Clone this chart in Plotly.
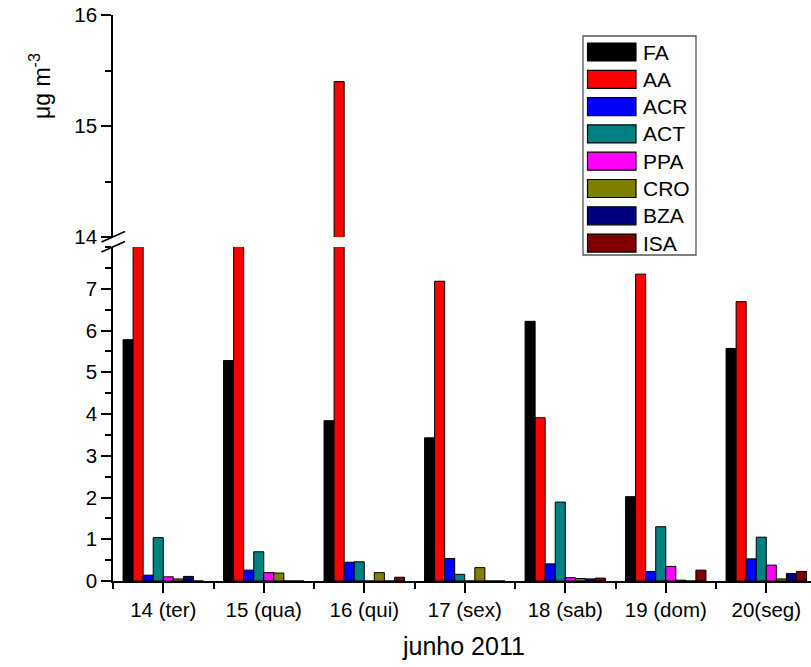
import plotly.graph_objects as go

days = ["14 (ter)", "15 (qua)", "16 (qui)", "17 (sex)", "18 (sab)", "19 (dom)", "20(seg)"]
series_names = ["FA", "AA", "ACR", "ACT", "PPA", "CRO", "BZA", "ISA"]
colors = ["#000000", "#FF0000", "#0000FF", "#008080", "#FF00FF", "#808000", "#000080", "#800000"]

FA = [5.78, 5.28, 3.84, 3.43, 6.22, 2.02, 5.57]
AA = [10.5, 10.5, 15.40, 7.18, 3.91, 7.35, 6.69]
ACR = [0.14, 0.26, 0.45, 0.54, 0.41, 0.23, 0.53]
ACT = [1.04, 0.70, 0.46, 0.16, 1.89, 1.30, 1.05]
PPA = [0.10, 0.20, 0.0, 0.0, 0.08, 0.35, 0.38]
CRO = [0.05, 0.19, 0.20, 0.32, 0.06, 0.02, 0.05]
BZA = [0.11, 0.0, 0.0, 0.0, 0.05, 0.0, 0.18]
ISA = [0.0, 0.0, 0.09, 0.0, 0.07, 0.26, 0.23]
values = [FA, AA, ACR, ACT, PPA, CRO, BZA, ISA]

W, H = 811, 667
ML, MR, MT, MB = 113, 0, 15, 86
PW, PH = W - ML - MR, H - MT - MB

def px(x):
    return (x - ML) / PW

def py(y):
    return (H - MB - y) / PH

FONT = "Arial, Liberation Sans, sans-serif"
xpos = list(range(len(days)))

fig = go.Figure()
for name, col, vals in zip(series_names, colors, values):
    for xa, ya in (("x", "y"), ("x2", "y2")):
        fig.add_trace(go.Bar(
            x=xpos, y=vals, name=name, xaxis=xa, yaxis=ya,
            marker=dict(color=col, line=dict(color="black", width=1)),
            showlegend=False, offsetgroup=name,
        ))

axis_common = dict(showline=True, linecolor="black", linewidth=1.5, ticks="outside",
                   tickcolor="black", tickwidth=1.5, showgrid=False, zeroline=False,
                   tickfont=dict(family=FONT, size=20.5, color="black"))

fig.update_layout(
    width=W, height=H,
    margin=dict(l=ML, r=MR, t=MT, b=MB),
    plot_bgcolor="white", paper_bgcolor="white",
    barmode="group", bargap=0.2, bargroupgap=0,
    showlegend=False,
    font=dict(family=FONT, size=20, color="black"),
    xaxis=dict(**axis_common, anchor="y", range=[-0.5, 6.445],
               tickmode="array", tickvals=xpos, ticktext=days, ticklen=10,
               minor=dict(tickvals=[i - 0.5 for i in range(len(days) + 1)], ticklen=6,
                          tickcolor="black", tickwidth=1.5, ticks="outside")),
    xaxis2=dict(matches="x", anchor="y2", visible=False, range=[-0.5, 6.445]),
    yaxis=dict(**axis_common, domain=[0, py(247)], range=[0, 8.0], anchor="x",
               tickmode="array", tickvals=list(range(8)), ticklen=10,
               minor=dict(dtick=0.5, tick0=0, ticklen=6, tickcolor="black", tickwidth=1.5, ticks="outside")),
    yaxis2=dict(**axis_common, domain=[py(237), 1], range=[14, 16], anchor="x2",
                tickmode="array", tickvals=[14, 15, 16], ticklen=10,
                minor=dict(dtick=0.5, tick0=14, ticklen=6, tickcolor="black", tickwidth=1.5, ticks="outside")),
)

# x-axis title
fig.add_annotation(xref="paper", yref="paper", x=px(463), y=py(646), text="junho 2011",
                   showarrow=False, font=dict(family=FONT, size=25, color="black"),
                   xanchor="center", yanchor="middle")

# y-axis title
fig.add_annotation(xref="paper", yref="paper", x=px(40), y=py(86), text="μg m<sup>-3</sup>",
                   textangle=-90, showarrow=False, font=dict(family=FONT, size=23, color="black"),
                   xanchor="center", yanchor="middle")

# break marks
for y0 in (242, 252):
    fig.add_shape(type="line", xref="paper", yref="paper",
                  x0=px(101.5), y0=py(y0), x1=px(125), y1=py(y0 - 10.5),
                  line=dict(color="black", width=1.8))

# custom legend
fig.add_shape(type="rect", xref="paper", yref="paper", x0=px(583), y0=py(36), x1=px(696), y1=py(255),
              line=dict(color="#555555", width=1.3), fillcolor="white")
for i, (name, col) in enumerate(zip(series_names, colors)):
    yc = 52 + i * 27.3
    fig.add_shape(type="rect", xref="paper", yref="paper", x0=px(587.5), y0=py(yc - 9), x1=px(636),
                  y1=py(yc + 9), line=dict(color="black", width=1.2), fillcolor=col)
    fig.add_annotation(xref="paper", yref="paper", x=px(641), y=py(yc), text=name, showarrow=False,
                       xanchor="left", yanchor="middle", font=dict(family=FONT, size=21, color="black"))

fig.write_html("out.html")
